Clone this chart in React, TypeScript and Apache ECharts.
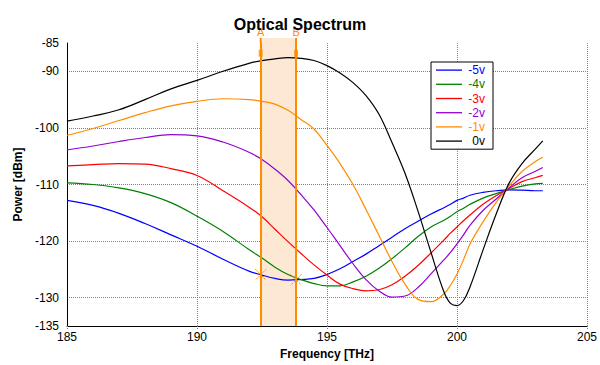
import React, { useEffect, useRef } from "react";
import * as echarts from "echarts";

const FREQ = [185, 186, 187, 188, 189, 190, 191, 192, 192.5, 193, 193.5, 194, 194.5, 195, 195.5, 196, 196.5, 197, 197.5, 198, 198.5, 199, 199.5, 199.75, 200, 200.25, 200.5, 201, 201.5, 202, 202.5, 203, 203.3];

const V_M5 = [-112.8, -113.7, -115.1, -116.9, -118.9, -120.9, -123.2, -125.3, -126.0, -126.6, -126.9, -126.8, -126.6, -125.9, -124.9, -123.6, -122.3, -120.8, -119.3, -117.8, -116.5, -115.2, -114.1, -113.5, -112.8, -112.4, -111.9, -111.4, -111.1, -110.95, -111.0, -111.1, -111.1];
const V_M4 = [-109.7, -110.0, -110.6, -111.6, -113.2, -115.6, -118.3, -121.5, -123.0, -124.6, -125.9, -126.8, -127.5, -127.9, -127.9, -127.2, -126.2, -124.8, -123.1, -121.2, -119.2, -117.5, -116.3, -115.6, -114.8, -114.2, -113.5, -112.4, -111.6, -110.9, -110.3, -109.9, -109.8];
const V_M3 = [-106.7, -106.5, -106.3, -106.4, -107.2, -108.4, -111.1, -114.0, -115.7, -117.9, -120.1, -122.2, -124.2, -126.0, -127.6, -128.4, -128.8, -128.6, -127.7, -126.2, -124.3, -122.1, -119.8, -118.6, -117.5, -116.4, -115.4, -113.5, -112.0, -110.7, -109.5, -108.8, -108.4];
const V_M2 = [-103.9, -103.2, -102.4, -101.7, -101.2, -101.4, -102.5, -104.3, -105.6, -107.3, -109.3, -111.8, -114.5, -117.6, -120.8, -124.0, -126.8, -128.8, -129.9, -129.7, -128.2, -125.8, -123.3, -122.0, -120.5, -118.9, -117.2, -114.6, -112.6, -110.6, -108.8, -107.7, -107.0];
const V_M1 = [-101.3, -100.1, -98.7, -97.3, -96.1, -95.3, -94.85, -95.0, -95.3, -95.8, -96.9, -98.5, -100.2, -103.1, -106.3, -110.0, -114.4, -119.0, -123.6, -127.6, -130.3, -130.7, -129.3, -127.8, -125.8, -123.3, -120.5, -116.6, -113.2, -110.3, -107.7, -106.0, -105.2];
const V_0 = [-98.8, -97.9, -96.8, -95.0, -93.1, -91.6, -90.0, -88.6, -88.1, -87.8, -87.6, -87.7, -88.1, -89.0, -90.3, -92.0, -94.3, -97.6, -102.6, -108.0, -114.7, -122.0, -129.0, -131.0, -131.4, -130.5, -128.1, -121.6, -115.3, -109.8, -106.3, -103.8, -102.3];

const SERIES_NAMES = ["-5v", "-4v", "-3v", "-2v", "-1v", "0v"];
const SERIES_VALUES = [V_M5, V_M4, V_M3, V_M2, V_M1, V_0];
const SERIES_COLORS = ["#0000ff", "#008000", "#ff0000", "#9400d3", "#ff8c00", "#000000"];

const MARKERS = [
  { name: "A", freq: 192.45 },
  { name: "B", freq: 193.81 },
];
const MARKER_HANDLE_Y = -86.8;

const X_MIN = 185, X_MAX = 205, X_STEP = 5;
const Y_MIN = -135, Y_MAX = -85, Y_STEP = 5;

const ORANGE = "#ff8c00";
const SHADE = "#fde9d3";
const FONT = "Liberation Sans, Arial, sans-serif";

function interp(xs: number[], ys: number[], x: number) {
  for (let i = 0; i < xs.length - 1; i++) {
    if (x >= xs[i] && x <= xs[i + 1]) {
      const t = (x - xs[i]) / (xs[i + 1] - xs[i]);
      return ys[i] + t * (ys[i + 1] - ys[i]);
    }
  }
  return ys[ys.length - 1];
}

export default function App() {
  const ref = useRef<HTMLDivElement>(null);
  useEffect(() => {
    if (!ref.current) return;
    const chart = echarts.init(ref.current, null, { renderer: "svg" });
    const lineSeries = SERIES_NAMES.map((name, i) => ({
      name,
      type: "line",
      data: FREQ.map((f, j) => [f, SERIES_VALUES[i][j]]),
      smooth: 0.4,
      showSymbol: false,
      symbol: "none",
      lineStyle: { color: SERIES_COLORS[i], width: 1.2 },
      itemStyle: { color: SERIES_COLORS[i] },
      z: 3,
    }));
    const option: any = {
      animation: false,
      backgroundColor: "#ffffff",
      title: {
        text: "Optical Spectrum",
        left: "center",
        top: 11,
        textStyle: { fontFamily: FONT, fontSize: 16, fontWeight: "bold", color: "#000" },
      },
      grid: { left: 67, right: 13, top: 43, bottom: 39, containLabel: false },
      legend: {
        orient: "vertical",
        left: 431,
        top: 62,
        padding: [1, 8, 1, 5],
        borderColor: "#000",
        borderWidth: 1,
        backgroundColor: "#fff",
        icon: "rect",
        itemWidth: 26,
        itemHeight: 1.3,
        itemGap: 0,
        data: SERIES_NAMES.map((n, i) => ({
          name: n,
          itemStyle: { color: SERIES_COLORS[i] },
          textStyle: { color: SERIES_COLORS[i] },
        })),
        formatter: (n: string) => `{r|${n}}`,
        textStyle: {
          fontFamily: FONT,
          fontSize: 12,
          lineHeight: 14.2,
          rich: { r: { width: 18, height: 14.2, lineHeight: 14.2, align: "right", fontFamily: FONT, fontSize: 12 } },
        },
      },
      xAxis: {
        type: "value",
        min: X_MIN,
        max: X_MAX,
        interval: X_STEP,
        name: "Frequency [THz]",
        nameLocation: "middle",
        nameGap: 22,
        nameTextStyle: { fontFamily: FONT, fontSize: 12, fontWeight: "bold", color: "#000" },
        axisLine: { lineStyle: { color: "#000", width: 1 } },
        axisTick: { show: true, length: 4, lineStyle: { color: "#808080", type: "dotted" } },
        axisLabel: { fontFamily: FONT, fontSize: 12, color: "#000", margin: 5 },
        splitLine: { show: true, lineStyle: { color: "#808080", type: "dotted", width: 1 } },
      },
      yAxis: {
        type: "value",
        min: Y_MIN,
        max: Y_MAX,
        interval: Y_STEP,
        name: "Power [dBm]",
        nameLocation: "middle",
        nameGap: 36,
        nameTextStyle: { fontFamily: FONT, fontSize: 12, fontWeight: "bold", color: "#000" },
        axisLine: { show: true, lineStyle: { color: "#000", width: 1 } },
        axisTick: { show: false },
        axisLabel: {
          fontFamily: FONT,
          fontSize: 12,
          color: "#000",
          formatter: (v: number) => (v % 10 === 0 || v === Y_MIN || v === Y_MAX ? String(v) : ""),
        },
        splitLine: {
          show: true,
          lineStyle: { color: ["transparent", "#808080"], type: "dotted", width: 1 },
        },
      },
      series: [
        {
          name: "markerArea",
          type: "line",
          data: [],
          z: 1,
          markArea: {
            silent: true,
            itemStyle: { color: SHADE },
            data: [[{ xAxis: MARKERS[0].freq }, { xAxis: MARKERS[1].freq }]],
          },
        },
        ...lineSeries,
        {
          name: "markerLines",
          type: "line",
          data: [],
          z: 5,
          markLine: {
            silent: true,
            symbol: "none",
            lineStyle: { color: ORANGE, width: 2, type: "solid" },
            label: {
              show: true,
              position: "end",
              distance: 6,
              color: ORANGE,
              fontFamily: FONT,
              fontSize: 11,
              formatter: (p: any) => p.name,
            },
            data: MARKERS.map((m) => ({ name: m.name, xAxis: m.freq })),
          },
        },
        {
          name: "markerHandles",
          type: "scatter",
          z: 6,
          symbol: "rect",
          symbolSize: [4, 7],
          itemStyle: { color: ORANGE },
          data: MARKERS.map((m) => [m.freq, MARKER_HANDLE_Y]),
        },
      ],
    };
    chart.setOption(option);
    const top = chart.convertToPixel({ yAxisIndex: 0 }, Y_MAX) as number;
    const graphics: any[] = [];
    const xa = chart.convertToPixel({ xAxisIndex: 0 }, MARKERS[0].freq) as number;
    const xb = chart.convertToPixel({ xAxisIndex: 0 }, MARKERS[1].freq) as number;
    graphics.push({
      type: "rect",
      shape: { x: xa, y: top - 5, width: xb - xa, height: 5 },
      style: { fill: SHADE },
      z: 9,
    });
    MARKERS.forEach((m) => {
      const x = chart.convertToPixel({ xAxisIndex: 0 }, m.freq) as number;
      graphics.push({
        type: "line",
        shape: { x1: x, y1: top - 5, x2: x, y2: top },
        style: { stroke: ORANGE, lineWidth: 2 },
        z: 10,
      });
      const p = chart.convertToPixel({ gridIndex: 0 }, [m.freq, interp(FREQ, V_M5, m.freq)]) as number[];
      const h = 5.5;
      graphics.push({
        type: "line",
        shape: { x1: p[0] - h, y1: p[1] - h, x2: p[0] + h, y2: p[1] + h },
        style: { stroke: ORANGE, lineWidth: 1, lineDash: [2, 1] },
        z: 10,
      });
      graphics.push({
        type: "line",
        shape: { x1: p[0] + h, y1: p[1] - h, x2: p[0] - h, y2: p[1] + h },
        style: { stroke: ORANGE, lineWidth: 1, lineDash: [2, 1] },
        z: 10,
      });
    });
    chart.setOption({ graphic: graphics });
    return () => chart.dispose();
  }, []);
  return <div ref={ref} style={{ position: "absolute", left: 0, top: 0, width: 600, height: 365 }} />;
}
